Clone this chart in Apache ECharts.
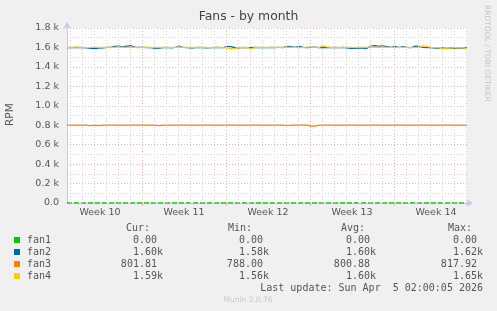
<!DOCTYPE html>
<html><head><meta charset="utf-8">
<script src="https://cdn.jsdelivr.net/npm/echarts@6/dist/echarts.min.js"></script>
<style>html,body{margin:0;padding:0;background:#f0f0f0}#c{width:497px;height:311px}</style>
</head><body><div id="c"></div>
<script>
// x axis in hours since Mon Feb 23 2026 00:00; samples every 8 hours
const startHour = 18, stepHours = 8, endHour = 818;
const weekStarts = [168, 336, 504, 672];
const weekCenters = [84, 252, 420, 588, 756];
const weekLabels = ['Week 10', 'Week 11', 'Week 12', 'Week 13', 'Week 14'];
const yTicks = [0, 200, 400, 600, 800, 1000, 1200, 1400, 1600, 1800];

const fan1 = [0,0,0,0,0,0,0,0,0,0, 0,0,0,0,0,0,0,0,0,0, 0,0,0,0,0,0,0,0,0,0, 0,0,0,0,0,0,0,0,0,0,
  0,0,0,0,0,0,0,0,0,0, 0,0,0,0,0,0,0,0,0,0, 0,0,0,0,0,0,0,0,0,0, 0,0,0,0,0,0,0,0,0,0,
  0,0,0,0,0,0,0,0,0,0, 0,0,0,0,0,0,0,0,0,0, 0];
const fan2 = [1598,1600,1597,1601,1599,1596, 1590,1588,1592,1595, 1600,1602, 1612,1615, 1605, 1614,1618,
  1603,1600,1601,1599,1597, 1590,1592, 1598,1601,1596,1600, 1614, 1601,1598,1594,1597,1600,
  1598,1595,1597,1601,1599,1597, 1612,1608, 1598,1596,1600,1597,1599,
  1600,1598,1601,1597,1600,1599,1602,1598, 1612,1609, 1600,1611, 1600,1598,1601,1603,1599,
  1600,1597,1599,1601,1598,1600,1596, 1590,1589,1592,1594,1591, 1615,1618,1612,1616,
  1610,1602,1611, 1599,1608,1600,1597, 1614,1612, 1601,1599,1597,
  1592,1591,1593,1590,1592,1591,1593,1592,1600];
const fan3 = [801,801,802,801,801,801,796,801,796,801, 801,802,801,801,801,801,802,801,801,801,
  801,801,801,795,801,801,802,801,801,801, 801,801,801,802,801,801,801,801,801,802,
  801,801,801,801,802,801,801,801,801,801, 801,802,801,801,801,797,801,801,801,802,
  801,790,791,801,801,801,802,801,801,801, 801,801,801,802,801,801,801,801,801,801,
  802,801,801,801,801,801,801,802,801,801, 801,801,801,801,802,801,801,801,801,801,802];
const fan4 = [1601,1598,1605,1600,1602,1599, 1600,1603,1598,1601, 1600,1599, 1602,1604, 1600, 1601,1603,
  1600,1598,1601,1603,1600, 1599,1601, 1600,1602,1598,1600, 1604, 1600,1603,1599,1601,1600,
  1602,1600,1598,1601,1603,1599, 1596,1585, 1590,1600,1598,1601,1586,
  1600,1602,1599,1601,1600,1603,1598,1600, 1602,1600, 1601,1599, 1600,1602,1604,1600,1598,
  1620,1606,1600,1601,1599,1602,1600, 1600,1598,1601,1600,1602, 1603,1600,1601,1604,
  1600,1602,1599, 1601,1600,1603,1599, 1601,1600, 1618,1610,1600,
  1598,1594,1585,1596,1592,1598,1595,1597,1590];

const names = ['fan1', 'fan2', 'fan3', 'fan4'];
const colors = ['#00cc00', '#0066b3', '#ff8000', '#ffcc00'];
const curVals = ['0.00 ', '1.60k', '801.81 ', '1.59k'];
const minVals = ['0.00 ', '1.58k', '788.00 ', '1.56k'];
const avgVals = ['0.00 ', '1.60k', '800.88 ', '1.60k'];
const maxVals = ['0.00 ', '1.62k', '817.92 ', '1.65k'];
const lastUpdate = 'Last update: Sun Apr  5 02:00:05 2026';

const hours = fan2.map((_, i) => startHour + i * stepHours);
const pairs = arr => arr.map((v, i) => [hours[i], v]);

const redGrid = '#eab3b3', grayGrid = '#d4d4d4', axisCol = '#c8c8ee', txt = '#555';
const gridLines = [];
for (let h = 24; h < endHour; h += 24) {
  const isWeek = weekStarts.indexOf(h) >= 0;
  gridLines.push({ xAxis: h, lineStyle: { color: isWeek ? redGrid : grayGrid, type: [1, 2], width: 1 } });
}

const mono = 'DejaVu Sans Mono';
const graphic = [
  { type: 'text', left: 'center', top: 11, style: { text: 'Fans - by month', font: '12.4px "DejaVu Sans"', fill: '#444' } },
  { type: 'text', x: 5, y: 126, rotation: Math.PI / 2, style: { text: 'RPM', font: '10.5px "DejaVu Sans"', fill: txt } },
  { type: 'text', x: 491, y: 5, rotation: -Math.PI / 2, style: { text: 'RRDTOOL / TOBI OETIKER', font: '7.5px "DejaVu Sans"', fill: '#c4c4c4' } },
  { type: 'text', x: 248, y: 300, style: { text: 'Munin 2.0.76', font: '7.5px "DejaVu Sans"', fill: '#c8c8c8', align: 'center', verticalAlign: 'middle' } }
];
const hdr = [['Cur:', 150], ['Min:', 252], ['Avg:', 365], ['Max:', 472]];
hdr.forEach(h => graphic.push({ type: 'text', x: h[1], y: 228, style: { text: h[0], font: '10px "' + mono + '"', fill: txt, align: 'right', verticalAlign: 'middle' } }));
const colRight = [163, 269, 376, 483];
names.forEach((n, r) => {
  const y = 240 + r * 12;
  graphic.push({ type: 'rect', shape: { x: 14, y: y - 3, width: 6, height: 6 }, style: { fill: colors[r] } });
  graphic.push({ type: 'text', x: 27, y: y, style: { text: n, font: '10px "' + mono + '"', fill: txt, verticalAlign: 'middle' } });
  [curVals, minVals, avgVals, maxVals].forEach((col, c) => {
    graphic.push({ type: 'text', x: colRight[c], y: y, style: { text: col[r], font: '10px "' + mono + '"', fill: txt, align: 'right', verticalAlign: 'middle' } });
  });
});
graphic.push({ type: 'text', x: 483, y: 288, style: { text: lastUpdate, font: '10px "' + mono + '"', fill: txt, align: 'right', verticalAlign: 'middle' } });

const chart = echarts.init(document.getElementById('c'), null, { renderer: 'canvas' });
chart.setOption({
  animation: false,
  backgroundColor: '#f0f0f0',
  grid: { left: 67, top: 28, width: 400, height: 175, show: true, backgroundColor: '#ffffff', borderWidth: 0 },
  xAxis: {
    type: 'value', min: startHour, max: endHour,
    splitLine: { show: false },
    axisLine: { show: true, lineStyle: { color: axisCol }, symbol: ['none', 'arrow'], symbolSize: [6, 7], symbolOffset: [0, 6] },
    axisTick: { show: true, customValues: weekStarts, length: 3, lineStyle: { color: redGrid } },
    axisLabel: { customValues: weekCenters, margin: 5, fontSize: 9.5, fontFamily: 'DejaVu Sans', color: txt,
      formatter: v => weekLabels[weekCenters.indexOf(v)] }
  },
  yAxis: {
    type: 'value', min: 0, max: 1800, interval: 200,
    axisLine: { show: true, lineStyle: { color: axisCol }, symbol: ['none', 'arrow'], symbolSize: [6, 7], symbolOffset: [0, 6] },
    axisTick: { show: false },
    axisLabel: { margin: 8, fontSize: 9.5, fontFamily: 'DejaVu Sans', color: txt,
      formatter: v => v === 0 ? '0.0' : (v / 1000).toFixed(1) + ' k' },
    splitLine: { show: true, lineStyle: { color: redGrid, type: [1, 2] } },
    minorTick: { show: false, splitNumber: 2 },
    minorSplitLine: { show: true, lineStyle: { color: grayGrid, type: [1, 2] } }
  },
  series: [
    { type: 'line', name: 'grid', data: pairs(fan1), showSymbol: false, silent: true, z: 1,
      lineStyle: { opacity: 0 },
      markLine: { silent: true, symbol: ['none', 'none'], label: { show: false }, animation: false, data: gridLines } },
    { type: 'line', name: 'fan1', data: pairs(fan1), showSymbol: false, z: 3, lineStyle: { color: colors[0], width: 1.3, type: [5, 2] } },
    { type: 'line', name: 'fan2', data: pairs(fan2), showSymbol: false, z: 3, lineStyle: { color: colors[1], width: 1.2 } },
    { type: 'line', name: 'fan3', data: pairs(fan3), showSymbol: false, z: 3, lineStyle: { color: colors[2], width: 1.2 } },
    { type: 'line', name: 'fan4', data: pairs(fan4), showSymbol: false, z: 3, lineStyle: { color: colors[3], width: 1.2 } }
  ],
  graphic: graphic
});
</script></body></html>
